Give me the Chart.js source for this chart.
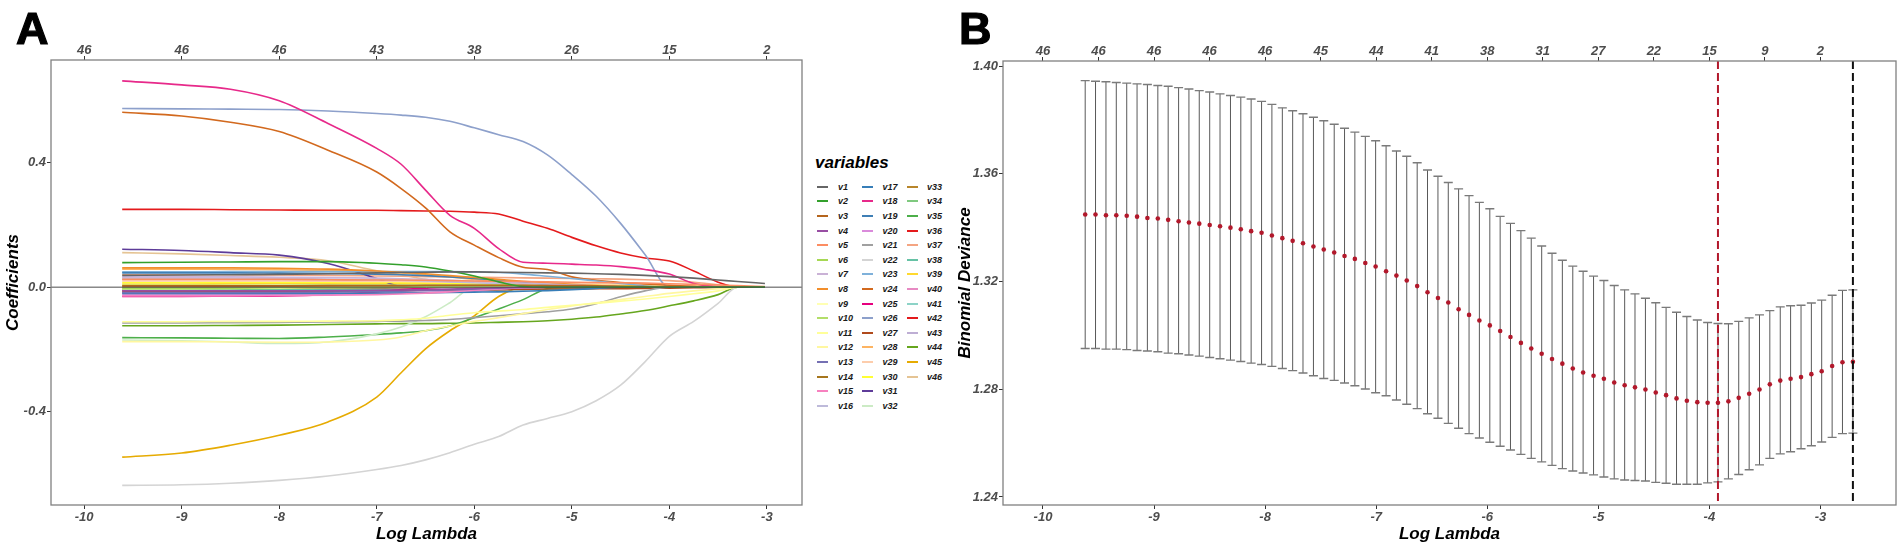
<!DOCTYPE html>
<html>
<head>
<meta charset="utf-8">
<title>Lasso coefficient paths and CV deviance</title>
<script src="https://cdn.jsdelivr.net/npm/chart.js@4.4.1/dist/chart.umd.min.js"></script>
<style>
  html, body { margin: 0; padding: 0; background: #fff; }
  #page { position: relative; width: 1902px; height: 548px; overflow: hidden; font-family: 'Liberation Sans', Arial, sans-serif; }
  .box { position: absolute; top: 0; height: 548px; }
  .tag { position: absolute; font-weight: bold; font-size: 45px; line-height: 45px; color: #000; -webkit-text-stroke: 1.2px #000; }
  .lg-title { position: absolute; left: 815px; top: 154px; font: italic bold 17px/17px 'Liberation Sans', Arial, sans-serif; color: #000; }
  .lg-key { position: absolute; width: 11px; height: 2px; }
  .lg-label { position: absolute; font: italic bold 9px/10px 'Liberation Sans', Arial, sans-serif; color: #1a1a1a; }
</style>
</head>
<body>
<div id="page">
  <div class="box" id="boxA" style="left:0;width:812px"><canvas id="chartA"></canvas></div>
  <div class="box" id="boxB" style="left:955px;width:947px"><canvas id="chartB"></canvas></div>
  <div id="legend"></div>
  <div class="tag" style="left:16px;top:6px">A</div>
  <div class="tag" style="left:959px;top:6px">B</div>
</div>
<script>
// ---- panel A: coefficient paths (log lambda knots) ----
const lambdaA = [-9.61, -9.0, -8.5, -8.0, -7.5, -7.0, -6.75, -6.5, -6.25, -6.0, -5.75, -5.5, -5.25, -5.0, -4.75, -4.5, -4.25, -4.0, -3.75, -3.5, -3.3, -3.02];

const v1 = [0.038, 0.039, 0.040, 0.041, 0.043, 0.046, 0.047, 0.048, 0.049, 0.049, 0.048, 0.047, 0.046, 0.045, 0.043, 0.041, 0.038, 0.034, 0.029, 0.023, 0.018, 0.012];
const v2 = [0.079, 0.080, 0.081, 0.082, 0.082, 0.077, 0.072, 0.065, 0.052, 0.036, 0.017, 0.002, 0, 0, 0, 0, 0, 0, 0, 0, 0, 0];
const v3 = [0.004, 0.004, 0.004, 0.004, 0.005, 0.005, 0.005, 0.006, 0.006, 0.006, 0.006, 0.006, 0.005, 0.005, 0.004, 0.003, 0.002, 0, 0, 0, 0, 0];
const v4 = [-0.012, -0.012, -0.012, -0.012, -0.011, -0.010, -0.009, -0.008, -0.006, -0.004, -0.002, -0.001, 0, 0, 0, 0, 0, 0, 0, 0, 0, 0];
const v5 = [0.025, 0.025, 0.025, 0.025, 0.024, 0.023, 0.023, 0.022, 0.021, 0.020, 0.019, 0.018, 0.017, 0.016, 0.015, 0.014, 0.013, 0.011, 0.009, 0.007, 0.005, 0.002];
const v6 = [-0.004, -0.004, -0.003, -0.002, -0.001, 0, 0, 0, 0, 0, 0, 0, 0, 0, 0, 0, 0, 0, 0, 0, 0, 0];
const v7 = [0.033, 0.033, 0.033, 0.032, 0.031, 0.029, 0.027, 0.025, 0.022, 0.019, 0.016, 0.013, 0.010, 0.007, 0.004, 0.002, 0, 0, 0, 0, 0, 0];
const v8 = [0.062, 0.062, 0.062, 0.061, 0.058, 0.052, 0.048, 0.043, 0.037, 0.031, 0.025, 0.019, 0.014, 0.009, 0.005, 0.002, 0, 0, 0, 0, 0, 0];
const v9 = [-0.005, -0.005, -0.004, -0.003, -0.001, 0, 0, 0, 0, 0, 0, 0, 0, 0, 0, 0, 0, 0, 0, 0, 0, 0];
const v10 = [0.006, 0.006, 0.006, 0.006, 0.007, 0.007, 0.007, 0.007, 0.007, 0.007, 0.007, 0.006, 0.006, 0.005, 0.004, 0.002, 0.001, 0, 0, 0, 0, 0];
const v11 = [-0.111, -0.111, -0.110, -0.110, -0.109, -0.108, -0.105, -0.100, -0.090, -0.082, -0.077, -0.072, -0.065, -0.058, -0.052, -0.045, -0.038, -0.030, -0.021, -0.012, 0, 0];
const v12 = [-0.175, -0.175, -0.176, -0.177, -0.176, -0.170, -0.160, -0.140, -0.125, -0.110, -0.098, -0.085, -0.072, -0.060, -0.050, -0.040, -0.030, -0.020, -0.012, -0.005, 0, 0];
const v13 = [-0.018, -0.018, -0.018, -0.017, -0.016, -0.014, -0.013, -0.011, -0.009, -0.006, -0.003, 0, 0, 0, 0, 0, 0, 0, 0, 0, 0, 0];
const v14 = [-0.003, -0.003, -0.003, -0.003, -0.002, -0.001, -0.001, 0, 0, 0, 0, 0, 0, 0, 0, 0, 0, 0, 0, 0, 0, 0];
const v15 = [-0.028, -0.028, -0.028, -0.027, -0.026, -0.024, -0.022, -0.019, -0.015, -0.010, -0.005, -0.001, 0, 0, 0, 0, 0, 0, 0, 0, 0, 0];
const v16 = [0.030, 0.030, 0.029, 0.028, 0.026, 0.024, 0.022, 0.020, 0.017, 0.014, 0.011, 0.008, 0.003, 0, 0, 0, 0, 0, 0, 0, 0, 0];
const v17 = [-0.020, -0.020, -0.020, -0.020, -0.020, -0.019, -0.019, -0.018, -0.017, -0.016, -0.015, -0.013, -0.011, -0.008, -0.004, 0, 0, 0, 0, 0, 0, 0];
const v18 = [0.663, 0.650, 0.636, 0.599, 0.526, 0.446, 0.395, 0.312, 0.231, 0.189, 0.124, 0.080, 0.077, 0.074, 0.071, 0.066, 0.057, 0.042, 0.012, 0.002, 0, 0];
const v19 = [0.046, 0.046, 0.046, 0.045, 0.044, 0.042, 0.040, 0.037, 0.033, 0.028, 0.022, 0.015, 0.008, 0.002, 0, 0, 0, 0, 0, 0, 0, 0];
const v20 = [-0.025, -0.025, -0.024, -0.024, -0.023, -0.021, -0.019, -0.017, -0.014, -0.010, -0.006, -0.002, 0, 0, 0, 0, 0, 0, 0, 0, 0, 0];
const v21 = [-0.115, -0.115, -0.114, -0.113, -0.112, -0.110, -0.109, -0.107, -0.104, -0.098, -0.092, -0.085, -0.079, -0.070, -0.053, -0.031, -0.012, 0, 0, 0, 0, 0];
const v22 = [-0.637, -0.635, -0.630, -0.621, -0.607, -0.586, -0.573, -0.555, -0.532, -0.505, -0.480, -0.443, -0.422, -0.400, -0.365, -0.315, -0.240, -0.158, -0.110, -0.052, 0, 0];
const v23 = [0.049, 0.049, 0.050, 0.050, 0.050, 0.050, 0.050, 0.050, 0.050, 0.049, 0.047, 0.042, 0.035, 0.028, 0.020, 0.012, 0.004, 0, 0, 0, 0, 0];
const v24 = [0.562, 0.550, 0.530, 0.500, 0.440, 0.370, 0.317, 0.255, 0.178, 0.135, 0.095, 0.064, 0.057, 0.033, 0.022, 0.015, 0.010, 0.006, 0.003, 0, 0, 0];
const v25 = [-0.030, -0.030, -0.029, -0.028, -0.024, -0.015, -0.008, -0.003, 0, 0, 0, 0, 0, 0, 0, 0, 0, 0, 0, 0, 0, 0];
const v26 = [0.574, 0.573, 0.572, 0.571, 0.566, 0.558, 0.553, 0.546, 0.533, 0.512, 0.490, 0.468, 0.425, 0.362, 0.292, 0.205, 0.105, 0, 0, 0, 0, 0];
const v27 = [-0.015, -0.015, -0.015, -0.014, -0.013, -0.012, -0.011, -0.010, -0.009, -0.008, -0.008, -0.007, -0.006, -0.006, -0.005, -0.005, -0.004, -0.003, -0.002, -0.001, 0, 0];
const v28 = [0.058, 0.058, 0.057, 0.056, 0.054, 0.050, 0.046, 0.040, 0.033, 0.025, 0.018, 0.010, 0.004, 0, 0, 0, 0, 0, 0, 0, 0, 0];
const v29 = [0.020, 0.020, 0.020, 0.020, 0.019, 0.018, 0.018, 0.017, 0.016, 0.015, 0.015, 0.014, 0.013, 0.012, 0.011, 0.010, 0.008, 0.006, 0.004, 0.002, 0, 0];
const v30 = [0.015, 0.015, 0.016, 0.016, 0.016, 0.015, 0.015, 0.014, 0.013, 0.012, 0.011, 0.010, 0.009, 0.008, 0.007, 0.006, 0.005, 0.004, 0.003, 0.001, 0, 0];
const v31 = [0.122, 0.118, 0.111, 0.103, 0.076, 0.028, 0.002, 0, 0, 0, 0, 0, 0, 0, 0, 0, 0, 0, 0, 0, 0, 0];
const v32 = [-0.170, -0.172, -0.176, -0.181, -0.176, -0.150, -0.128, -0.095, -0.050, 0, 0, 0, 0, 0, 0, 0, 0, 0, 0, 0, 0, 0];
const v33 = [0.002, 0.002, 0.002, 0.002, 0.002, 0.003, 0.003, 0.003, 0.003, 0.003, 0.003, 0.003, 0.003, 0.003, 0.002, 0.002, 0.001, 0, 0, 0, 0, 0];
const v34 = [-0.008, -0.007, -0.006, -0.004, -0.002, 0, 0, 0, 0, 0, 0, 0, 0, 0, 0, 0, 0, 0, 0, 0, 0, 0];
const v35 = [-0.162, -0.163, -0.164, -0.165, -0.160, -0.152, -0.147, -0.140, -0.125, -0.098, -0.070, -0.040, -0.005, 0, 0, 0, 0, 0, 0, 0, 0, 0];
const v36 = [0.250, 0.250, 0.249, 0.248, 0.247, 0.247, 0.246, 0.245, 0.244, 0.241, 0.235, 0.212, 0.189, 0.160, 0.133, 0.110, 0.094, 0.084, 0.052, 0.016, 0, 0];
const v37 = [0.040, 0.040, 0.040, 0.039, 0.038, 0.036, 0.035, 0.034, 0.033, 0.032, 0.031, 0.030, 0.029, 0.028, 0.027, 0.026, 0.024, 0.021, 0.016, 0.008, 0, 0];
const v38 = [-0.006, -0.006, -0.006, -0.007, -0.007, -0.007, -0.008, -0.008, -0.008, -0.008, -0.008, -0.007, -0.006, -0.005, -0.003, -0.001, 0, 0, 0, 0, 0, 0];
const v39 = [0.010, 0.010, 0.011, 0.012, 0.012, 0.012, 0.012, 0.011, 0.011, 0.010, 0.010, 0.009, 0.008, 0.007, 0.006, 0.005, 0.004, 0.003, 0.002, 0.001, 0, 0];
const v40 = [-0.022, -0.022, -0.022, -0.022, -0.021, -0.020, -0.019, -0.018, -0.016, -0.013, -0.009, -0.005, -0.002, 0, 0, 0, 0, 0, 0, 0, 0, 0];
const v41 = [-0.004, -0.004, -0.004, -0.004, -0.003, -0.002, -0.001, 0, 0, 0, 0, 0, 0, 0, 0, 0, 0, 0, 0, 0, 0, 0];
const v42 = [-0.010, -0.010, -0.010, -0.009, -0.007, -0.004, -0.002, 0, 0.002, 0.003, 0.004, 0.004, 0.004, 0.004, 0.003, 0.003, 0.002, 0.002, 0.001, 0, 0, 0];
const v43 = [0.026, 0.026, 0.026, 0.025, 0.023, 0.020, 0.018, 0.015, 0.012, 0.009, 0.006, 0.003, 0, 0, 0, 0, 0, 0, 0, 0, 0, 0];
const v44 = [-0.124, -0.124, -0.123, -0.122, -0.120, -0.118, -0.117, -0.117, -0.116, -0.115, -0.113, -0.111, -0.108, -0.103, -0.096, -0.086, -0.075, -0.060, -0.044, -0.024, 0, 0];
const v45 = [-0.546, -0.533, -0.508, -0.476, -0.433, -0.353, -0.275, -0.198, -0.140, -0.092, -0.030, 0, 0, 0, 0, 0, 0, 0, 0, 0, 0, 0];
const v46 = [0.111, 0.107, 0.102, 0.096, 0.085, 0.053, 0.040, 0.025, 0.013, 0.004, 0, 0, 0, 0, 0, 0, 0, 0, 0, 0, 0, 0];

const coefPaths = [v1, v2, v3, v4, v5, v6, v7, v8, v9, v10, v11, v12, v13, v14, v15, v16,
  v17, v18, v19, v20, v21, v22, v23, v24, v25, v26, v27, v28, v29, v30, v31, v32,
  v33, v34, v35, v36, v37, v38, v39, v40, v41, v42, v43, v44, v45, v46];
const varNames = coefPaths.map((_, i) => 'v' + (i + 1));
const varColors = [
  '#666666', '#33A02C', '#B5651D', '#984EA3', '#FC8D62', '#A6D854', '#CAB2D6', '#F28E2B',
  '#FFFFB3', '#B3DE69', '#FFFF99', '#FFF7A0', '#7570B3', '#A6761D', '#F781BF', '#BEBADA',
  '#377EB8', '#E7298A', '#3F7FB5', '#DA8BDB', '#A0A0A0', '#D4D4D4', '#7FB1DA', '#D2691E',
  '#E6007E', '#8DA0CB', '#B04A1C', '#FDB462', '#FDCDAC', '#FFFF33', '#5E3C99', '#CCEBC5',
  '#B8862B', '#7FC97F', '#4DAF4A', '#E41A1C', '#F4A582', '#66C2A5', '#FFD92F', '#E78AC3',
  '#8DD3C7', '#E31A1C', '#BEAED4', '#66A61E', '#E6AB02', '#E5C494'
];

const xTicksA = [-10, -9, -8, -7, -6, -5, -4, -3];
const xLabelsA = ['-10', '-9', '-8', '-7', '-6', '-5', '-4', '-3'];
const dfLabelsA = ['46', '46', '46', '43', '38', '26', '15', '2'];
const yTicksA = [-0.4, 0, 0.4];
const yLabelsA = ['-0.4', '0.0', '0.4'];

// ---- panel B: cross-validated binomial deviance ----
const lambdaB = [
  -9.620, -9.527, -9.433, -9.340, -9.246, -9.153, -9.060, -8.966, -8.873, -8.779,
  -8.686, -8.593, -8.499, -8.406, -8.312, -8.219, -8.126, -8.032, -7.939, -7.845,
  -7.752, -7.659, -7.565, -7.472, -7.378, -7.285, -7.192, -7.098, -7.005, -6.911,
  -6.818, -6.725, -6.631, -6.538, -6.444, -6.351, -6.258, -6.164, -6.071, -5.977,
  -5.884, -5.791, -5.697, -5.604, -5.510, -5.417, -5.324, -5.230, -5.137, -5.043,
  -4.950, -4.857, -4.763, -4.670, -4.576, -4.483, -4.390, -4.296, -4.203, -4.109,
  -4.016, -3.923, -3.829, -3.736, -3.642, -3.549, -3.456, -3.362, -3.269, -3.175,
  -3.082, -2.989, -2.895, -2.802, -2.708
];
const cvMean = [
  1.3449, 1.3449, 1.3446, 1.3446, 1.3444, 1.3441, 1.3436, 1.3434, 1.3429, 1.3424,
  1.3419, 1.3415, 1.3410, 1.3405, 1.3400, 1.3394, 1.3387, 1.3381, 1.3371, 1.3361,
  1.3351, 1.3342, 1.3330, 1.3319, 1.3308, 1.3295, 1.3284, 1.3269, 1.3256, 1.3238,
  1.3222, 1.3204, 1.3183, 1.3160, 1.3139, 1.3122, 1.3097, 1.3076, 1.3055, 1.3037,
  1.3016, 1.2994, 1.2972, 1.2951, 1.2932, 1.2912, 1.2895, 1.2877, 1.2862, 1.2850,
  1.2839, 1.2825, 1.2815, 1.2807, 1.2799, 1.2788, 1.2778, 1.2766, 1.2757, 1.2752,
  1.2750, 1.2750, 1.2755, 1.2768, 1.2783, 1.2799, 1.2818, 1.2832, 1.2839, 1.2845,
  1.2856, 1.2867, 1.2886, 1.2900, 1.2902
];
const cvUpper = [
  1.3946, 1.3944, 1.3942, 1.3939, 1.3937, 1.3934, 1.3932, 1.3928, 1.3925, 1.3920,
  1.3915, 1.3909, 1.3904, 1.3897, 1.3891, 1.3885, 1.3878, 1.3869, 1.3858, 1.3845,
  1.3834, 1.3823, 1.3810, 1.3797, 1.3784, 1.3769, 1.3755, 1.3739, 1.3723, 1.3704,
  1.3685, 1.3665, 1.3641, 1.3614, 1.3591, 1.3568, 1.3544, 1.3519, 1.3494, 1.3470,
  1.3442, 1.3416, 1.3389, 1.3361, 1.3332, 1.3305, 1.3279, 1.3257, 1.3238, 1.3220,
  1.3204, 1.3185, 1.3169, 1.3154, 1.3138, 1.3121, 1.3104, 1.3086, 1.3070, 1.3057,
  1.3048, 1.3044, 1.3043, 1.3052, 1.3065, 1.3076, 1.3092, 1.3106, 1.3110, 1.3112,
  1.3120, 1.3131, 1.3149, 1.3167, 1.3169
];
const cvLower = [
  1.2951, 1.2951, 1.2949, 1.2949, 1.2947, 1.2944, 1.2942, 1.2939, 1.2934, 1.2932,
  1.2927, 1.2923, 1.2918, 1.2913, 1.2908, 1.2903, 1.2897, 1.2892, 1.2885, 1.2877,
  1.2869, 1.2860, 1.2850, 1.2840, 1.2833, 1.2823, 1.2813, 1.2801, 1.2787, 1.2776,
  1.2760, 1.2744, 1.2728, 1.2709, 1.2692, 1.2673, 1.2655, 1.2635, 1.2619, 1.2603,
  1.2588, 1.2574, 1.2558, 1.2543, 1.2530, 1.2517, 1.2505, 1.2496, 1.2489, 1.2482,
  1.2474, 1.2467, 1.2463, 1.2461, 1.2459, 1.2454, 1.2451, 1.2447, 1.2447, 1.2447,
  1.2452, 1.2456, 1.2467, 1.2483, 1.2501, 1.2519, 1.2543, 1.2560, 1.2568, 1.2579,
  1.2590, 1.2604, 1.2621, 1.2635, 1.2637
];
const lambdaMin = -3.923;
const lambda1se = -2.708;

const xTicksB = [-10, -9, -8, -7, -6, -5, -4, -3];
const xLabelsB = ['-10', '-9', '-8', '-7', '-6', '-5', '-4', '-3'];
const dfTicksB = [-10, -9.5, -9, -8.5, -8, -7.5, -7, -6.5, -6, -5.5, -5, -4.5, -4, -3.5, -3];
const dfLabelsB = ['46', '46', '46', '46', '46', '45', '44', '41', '38', '31', '27', '22', '15', '9', '2'];
const yTicksB = [1.24, 1.28, 1.32, 1.36, 1.40];
const yLabelsB = ['1.24', '1.28', '1.32', '1.36', '1.40'];

// ---- shared look ----
Chart.defaults.font.family = "'Liberation Sans', Arial, sans-serif";
Chart.defaults.color = '#4d4d4d';
const tickFont = { size: 13, style: 'italic', weight: 'bold' };
const titleFont = { size: 17, style: 'italic', weight: 'bold' };

// one axis with fixed ticks and a fixed box size so the panels line up
function axis (position, min, max, ticks, labels, size, title, titlePad) {
  const horiz = position === 'top' || position === 'bottom';
  return {
    type: 'linear',
    position,
    min,
    max,
    afterBuildTicks: s => { s.ticks = ticks.map(v => ({ value: v })); },
    afterFit: s => { if (horiz) s.height = size; else s.width = size; },
    grid: { drawOnChartArea: false, drawTicks: true, tickLength: 4, tickColor: '#333', tickWidth: 1 },
    border: { display: false },
    ticks: {
      font: tickFont,
      color: '#4d4d4d',
      padding: position === 'top' ? -2 : 1,
      autoSkip: false,
      maxRotation: 0,
      callback: (v, i) => labels[i]
    },
    title: title
      ? { display: true, text: title, font: titleFont, color: '#000', padding: titlePad || { top: 0, bottom: 3 } }
      : { display: false }
  };
}

// grey frame round the panel (theme_bw border)
const panelFrame = {
  id: 'panelFrame',
  afterDraw (chart) {
    const { ctx, chartArea: a } = chart;
    ctx.save();
    ctx.strokeStyle = '#808080';
    ctx.lineWidth = 1.3;
    ctx.strokeRect(a.left, a.top, a.right - a.left, a.bottom - a.top);
    ctx.restore();
  }
};

// horizontal reference line at y = 0
const zeroLine = {
  id: 'zeroLine',
  afterDatasetsDraw (chart) {
    const { ctx, chartArea: a } = chart;
    const y = chart.scales.y.getPixelForValue(0);
    ctx.save();
    ctx.strokeStyle = '#4d4d4d';
    ctx.lineWidth = 1;
    ctx.beginPath();
    ctx.moveTo(a.left, y);
    ctx.lineTo(a.right, y);
    ctx.stroke();
    ctx.restore();
  }
};

// cv error bars (mean +/- se) drawn under the points
const errorBars = {
  id: 'errorBars',
  beforeDatasetsDraw (chart) {
    const { ctx } = chart;
    const { x, y } = chart.scales;
    ctx.save();
    lambdaB.forEach((l, i) => {
      const px = x.getPixelForValue(l);
      const top = y.getPixelForValue(cvUpper[i]);
      const bot = y.getPixelForValue(cvLower[i]);
      ctx.strokeStyle = '#595959';
      ctx.lineWidth = 1;
      ctx.beginPath();
      ctx.moveTo(px, top);
      ctx.lineTo(px, bot);
      ctx.stroke();
      ctx.strokeStyle = '#7a7a7a';
      ctx.lineWidth = 1.4;
      ctx.beginPath();
      ctx.moveTo(px - 4.5, top);
      ctx.lineTo(px + 4.5, top);
      ctx.moveTo(px - 4.5, bot);
      ctx.lineTo(px + 4.5, bot);
      ctx.stroke();
    });
    ctx.restore();
  }
};

// dashed lines at lambda.min and lambda.1se
const lambdaLines = {
  id: 'lambdaLines',
  afterDatasetsDraw (chart) {
    const { ctx, chartArea: a } = chart;
    const x = chart.scales.x;
    ctx.save();
    ctx.lineWidth = 2;
    ctx.setLineDash([8, 4]);
    [[lambdaMin, '#B2182B'], [lambda1se, '#111111']].forEach(([l, c]) => {
      const px = x.getPixelForValue(l);
      ctx.strokeStyle = c;
      ctx.beginPath();
      ctx.moveTo(px, a.top);
      ctx.lineTo(px, a.bottom);
      ctx.stroke();
    });
    ctx.restore();
  }
};

const baseOptions = {
  responsive: true,
  maintainAspectRatio: false,
  animation: false,
  events: [],
  plugins: { legend: { display: false }, tooltip: { enabled: false } }
};

// ---- chart A ----
new Chart(document.getElementById('chartA'), {
  type: 'line',
  data: {
    datasets: coefPaths.map((path, k) => ({
      label: varNames[k],
      data: lambdaA.map((x, i) => ({ x, y: path[i] })),
      borderColor: varColors[k],
      borderWidth: 1.6,
      pointRadius: 0,
      cubicInterpolationMode: 'monotone',
      fill: false
    }))
  },
  options: {
    ...baseOptions,
    layout: { padding: { left: 0, right: 10, top: 0, bottom: 0 } },
    scales: {
      x: axis('bottom', -10.34, -2.64, xTicksA, xLabelsA, 43, 'Log Lambda'),
      xTop: axis('top', -10.34, -2.64, xTicksA, dfLabelsA, 60),
      y: axis('left', -0.70, 0.73, yTicksA, yLabelsA, 51, 'Coefficients', { top: 3, bottom: 0 })
    }
  },
  plugins: [zeroLine, panelFrame]
});

// ---- legend for A ----
const legendEl = document.getElementById('legend');
legendEl.innerHTML = '<div class="lg-title">variables</div>';
varNames.forEach((name, i) => {
  const col = Math.floor(i / 16);
  const row = i % 16;
  const cy = 186.7 + row * 14.6;
  const key = document.createElement('div');
  key.className = 'lg-key';
  key.style.left = (817 + col * 45) + 'px';
  key.style.top = (cy - 1) + 'px';
  key.style.background = varColors[i];
  const lab = document.createElement('div');
  lab.className = 'lg-label';
  lab.style.left = (838 + col * 44.5) + 'px';
  lab.style.top = (cy - 5) + 'px';
  lab.textContent = name;
  legendEl.appendChild(key);
  legendEl.appendChild(lab);
});

// ---- chart B ----
new Chart(document.getElementById('chartB'), {
  type: 'scatter',
  data: {
    datasets: [{
      label: 'cv mean',
      data: lambdaB.map((x, i) => ({ x, y: cvMean[i] })),
      backgroundColor: '#B2182B',
      borderWidth: 0,
      pointRadius: 2.3
    }]
  },
  options: {
    ...baseOptions,
    layout: { padding: { left: 0, right: 6, top: 0, bottom: 0 } },
    scales: {
      x: axis('bottom', -10.36, -2.32, xTicksB, xLabelsB, 43, 'Log Lambda'),
      xTop: axis('top', -10.36, -2.32, dfTicksB, dfLabelsB, 61),
      y: axis('left', 1.237, 1.4019, yTicksB, yLabelsB, 48, 'Binomial Deviance')
    }
  },
  plugins: [errorBars, lambdaLines, panelFrame]
});
</script>
</body>
</html>
